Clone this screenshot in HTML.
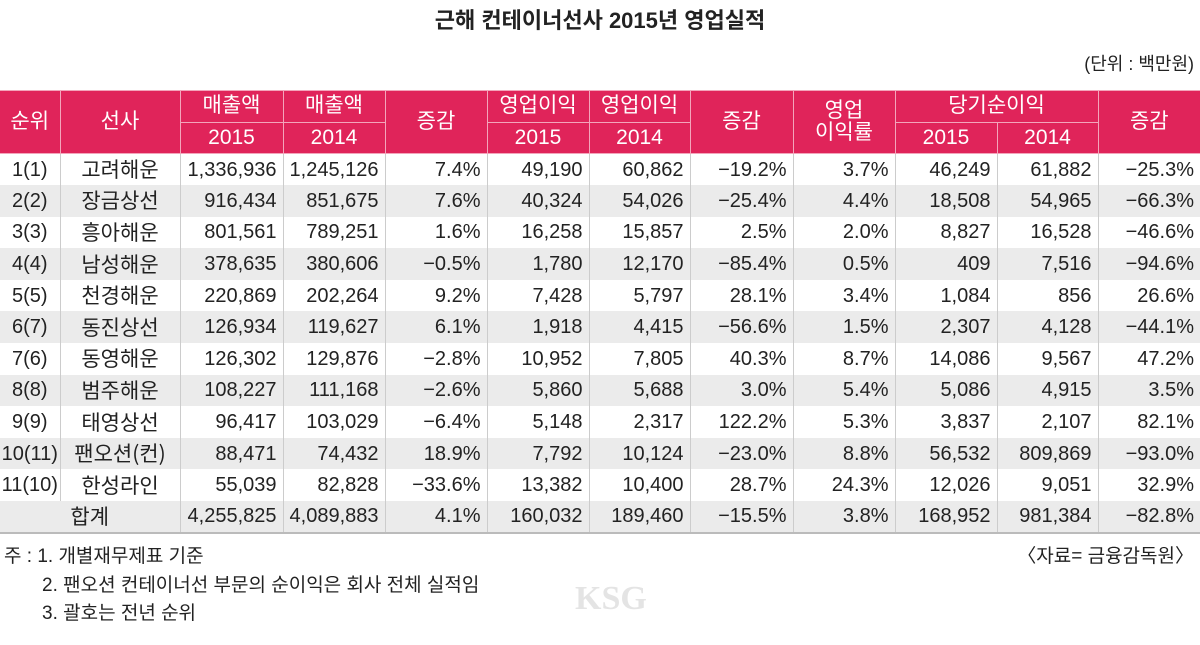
<!DOCTYPE html>
<html><head><meta charset="utf-8"><style>
*{margin:0;padding:0;box-sizing:border-box}
body{width:1200px;height:645px;background:#fff;font-family:"Liberation Sans","Noto Sans CJK KR",sans-serif;color:#222;position:relative;overflow:hidden}
.title{position:absolute;top:3px;left:0;width:1200px;text-align:center;font-size:22px;font-weight:bold;font-family:"Liberation Sans","Noto Sans CJK KR",sans-serif}
.unit{position:absolute;top:50px;right:6px;font-size:18px}
table{position:absolute;top:90px;left:0;width:1200px;border-collapse:collapse;table-layout:fixed}
th{background:#e0245a;color:#fff;font-weight:normal;font-size:21px;border:1px solid #f3a5bb;height:31.5px;line-height:1.05}
td{font-size:20px;height:31.6px;border-left:1px solid #ccc;border-right:1px solid #ccc;text-align:right;padding-right:6px;white-space:nowrap;line-height:1}
td.c{text-align:center;padding:0}
td.k{text-align:center;padding:0;font-size:21px;font-family:"Noto Sans CJK KR","Liberation Sans",sans-serif}
tr.g td{background:#ebebeb}
tr.last td{border-bottom:2px solid #bbb}
th:first-child,td:first-child{border-left:none}
th:last-child,td:last-child{border-right:none}
.note{position:absolute;font-size:19px}
.ksg{position:absolute;left:575px;top:580px;font-size:34px;font-weight:bold;color:#e4e4e4;font-family:"Liberation Serif",serif}
</style></head><body>
<div class="title">근해 컨테이너선사 2015년 영업실적</div>
<div class="unit">(단위 : 백만원)</div>
<table>
<colgroup><col style="width:60px"><col style="width:120px"><col style="width:103px"><col style="width:102px"><col style="width:102px"><col style="width:102px"><col style="width:101px"><col style="width:103px"><col style="width:102px"><col style="width:102px"><col style="width:101px"><col style="width:102px"></colgroup>
<tr><th rowspan="2">순위</th><th rowspan="2">선사</th><th>매출액</th><th>매출액</th><th rowspan="2">증감</th><th>영업이익</th><th>영업이익</th><th rowspan="2">증감</th><th rowspan="2">영업<br>이익률</th><th colspan="2">당기순이익</th><th rowspan="2">증감</th></tr>
<tr><th>2015</th><th>2014</th><th>2015</th><th>2014</th><th>2015</th><th>2014</th></tr>
<tr><td class="c">1(1)</td><td class="k">고려해운</td><td>1,336,936</td><td>1,245,126</td><td>7.4%</td><td>49,190</td><td>60,862</td><td>−19.2%</td><td>3.7%</td><td>46,249</td><td>61,882</td><td>−25.3%</td></tr>
<tr class="g"><td class="c">2(2)</td><td class="k">장금상선</td><td>916,434</td><td>851,675</td><td>7.6%</td><td>40,324</td><td>54,026</td><td>−25.4%</td><td>4.4%</td><td>18,508</td><td>54,965</td><td>−66.3%</td></tr>
<tr><td class="c">3(3)</td><td class="k">흥아해운</td><td>801,561</td><td>789,251</td><td>1.6%</td><td>16,258</td><td>15,857</td><td>2.5%</td><td>2.0%</td><td>8,827</td><td>16,528</td><td>−46.6%</td></tr>
<tr class="g"><td class="c">4(4)</td><td class="k">남성해운</td><td>378,635</td><td>380,606</td><td>−0.5%</td><td>1,780</td><td>12,170</td><td>−85.4%</td><td>0.5%</td><td>409</td><td>7,516</td><td>−94.6%</td></tr>
<tr><td class="c">5(5)</td><td class="k">천경해운</td><td>220,869</td><td>202,264</td><td>9.2%</td><td>7,428</td><td>5,797</td><td>28.1%</td><td>3.4%</td><td>1,084</td><td>856</td><td>26.6%</td></tr>
<tr class="g"><td class="c">6(7)</td><td class="k">동진상선</td><td>126,934</td><td>119,627</td><td>6.1%</td><td>1,918</td><td>4,415</td><td>−56.6%</td><td>1.5%</td><td>2,307</td><td>4,128</td><td>−44.1%</td></tr>
<tr><td class="c">7(6)</td><td class="k">동영해운</td><td>126,302</td><td>129,876</td><td>−2.8%</td><td>10,952</td><td>7,805</td><td>40.3%</td><td>8.7%</td><td>14,086</td><td>9,567</td><td>47.2%</td></tr>
<tr class="g"><td class="c">8(8)</td><td class="k">범주해운</td><td>108,227</td><td>111,168</td><td>−2.6%</td><td>5,860</td><td>5,688</td><td>3.0%</td><td>5.4%</td><td>5,086</td><td>4,915</td><td>3.5%</td></tr>
<tr><td class="c">9(9)</td><td class="k">태영상선</td><td>96,417</td><td>103,029</td><td>−6.4%</td><td>5,148</td><td>2,317</td><td>122.2%</td><td>5.3%</td><td>3,837</td><td>2,107</td><td>82.1%</td></tr>
<tr class="g"><td class="c">10(11)</td><td class="k">팬오션(컨)</td><td>88,471</td><td>74,432</td><td>18.9%</td><td>7,792</td><td>10,124</td><td>−23.0%</td><td>8.8%</td><td>56,532</td><td>809,869</td><td>−93.0%</td></tr>
<tr><td class="c">11(10)</td><td class="k">한성라인</td><td>55,039</td><td>82,828</td><td>−33.6%</td><td>13,382</td><td>10,400</td><td>28.7%</td><td>24.3%</td><td>12,026</td><td>9,051</td><td>32.9%</td></tr>
<tr class="g last"><td class="k" colspan="2">합계</td><td>4,255,825</td><td>4,089,883</td><td>4.1%</td><td>160,032</td><td>189,460</td><td>−15.5%</td><td>3.8%</td><td>168,952</td><td>981,384</td><td>−82.8%</td></tr>
</table>
<div class="note" style="left:4px;top:541px">주 : 1. 개별재무제표 기준</div>
<div class="note" style="right:6px;top:541px">〈자료= 금융감독원〉</div>
<div class="note" style="left:42px;top:570px">2. 팬오션 컨테이너선 부문의 순이익은 회사 전체 실적임</div>
<div class="note" style="left:42px;top:598px">3. 괄호는 전년 순위</div>
<div class="ksg">KSG</div>
</body></html>
